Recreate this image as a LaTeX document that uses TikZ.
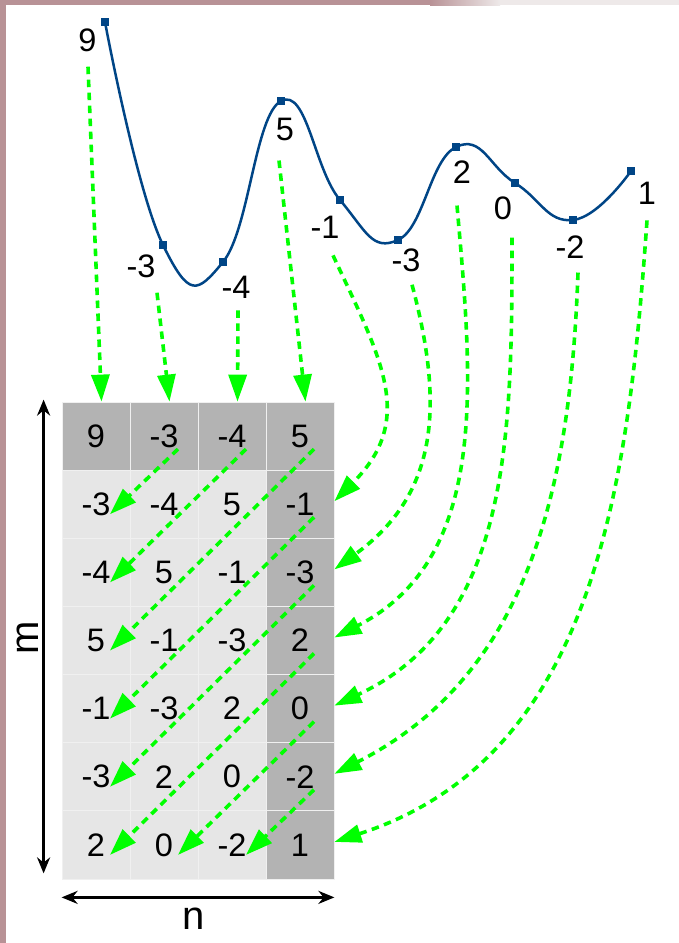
\documentclass[tikz,border=0pt]{standalone}
\usepackage{fontspec}
\setmainfont{Liberation Sans}
\usetikzlibrary{arrows.meta, calc}
\definecolor{curveblue}{RGB}{0,69,134}
\definecolor{flowgreen}{RGB}{0,255,0}
\definecolor{celldark}{RGB}{179,179,179}
\definecolor{celllight}{RGB}{230,230,230}
\definecolor{gridline}{RGB}{240,240,240}
\definecolor{stone}{RGB}{184,146,150}
\definecolor{stonelight}{RGB}{238,233,233}
\tikzset{
  cell/.style={rectangle, draw=gridline, line width=0.8pt,
    minimum width=68pt, minimum height=68.14pt, inner sep=0pt,
    font=\fontsize{32.5}{38}\selectfont},
  ptmark/.style={rectangle, fill=curveblue, minimum size=8pt, inner sep=0pt},
  vallabel/.style={inner sep=0pt, font=\fontsize{32.5}{38}\selectfont},
  axislabel/.style={inner sep=0pt, font=\fontsize{40}{46}\selectfont},
  flow/.style={-{Triangle[length=27pt, width=18pt]}, color=flowgreen,
    line width=3.6pt, dash pattern=on 7.5pt off 5.5pt},
  axis/.style={{Stealth[length=16pt, width=13pt]}-{Stealth[length=16pt, width=13pt]},
    line width=3pt, color=black}
}

\begin{document}
\begin{tikzpicture}[x=1pt, y=-1pt]
  \useasboundingbox (0,0) rectangle (679,943);
  % paper and stone edge
  \fill[white] (0,0) rectangle (679,943);
  \fill[stonelight] (0,0) rectangle (679,5);
  \fill[stone] (0,0) rectangle (430,5);
  \shade[left color=stone, right color=stonelight] (430,0) rectangle (500,5);
  \fill[stone] (0,0) rectangle (6,943);

  % signal curve
  \foreach \x/\y [count=\i] in {105/22, 163/245, 223/262, 281/101, 340/200,
      398/240, 456/147, 515/183, 573/220, 631/171}
    \coordinate (q\i) at (\x,\y);
  \draw[curveblue, line width=2.5pt] plot[smooth, tension=0.8]
    coordinates {(q1) (q2) (q3) (q4) (q5) (q6) (q7) (q8) (q9) (q10)};
  \foreach \i in {1,...,10}
    \node[ptmark] (p\i) at (q\i) {};

  % sample values
  \foreach \x/\y/\v [count=\i] in {87.5/40/9, 141/266/-3, 236/287/-4, 285/129/5,
      325/227/-1, 406/260/-3, 462/172/2, 503/208/0, 570/247/-2, 647/193/1}
    \node[vallabel] (l\i) at (\x,\y) {\v};

  % m x n matrix
  \foreach \row [count=\r from 0] in {{9,-3,-4,5},{-3,-4,5,-1},{-4,5,-1,-3},
      {5,-1,-3,2},{-1,-3,2,0},{-3,2,0,-2},{2,0,-2,1}}
    \foreach \v [count=\c from 0] in \row {
      \pgfmathtruncatemacro\dk{(\r==0)||(\c==3)}
      \ifnum\dk=1 \def\cf{celldark}\else\def\cf{celllight}\fi
      \node[cell, fill=\cf] (c-\r-\c) at (96+68*\c, 402+68.14*\r+34.07) {\v};
    }

  % first row fed from the first four samples
  \foreach \i/\dx/\dy/\cl in {1/0.5/15/c-0-0, 2/16/15/c-0-1, 3/2/12/c-0-2, 4/-6/20/c-0-3}
    \draw[flow] ([shift={(\dx,\dy)}]l\i.south) -- ([xshift=5.5pt]\cl.north);

  % last column fed from the remaining samples
  \foreach \i/\dx/\dy/\r/\o/\n/\lo in {5/8/17/1/-65/45/1.2, 6/6/13/2/-75/36/1.1,
      7/-5/22/3/-85/27/1, 8/9/18/4/-90/25/1, 9/8/14/5/-92/27/1, 10/0/16/6/-94/18/1}
    \draw[flow] ([shift={(\dx,\dy)}]l\i.south) to[out=\o, in=\n, looseness=\lo]
      ([yshift=3pt]c-\r-3.east);

  % shifted copies along the anti-diagonals
  \foreach \a/\b in {0-1/1-0, 0-2/2-0, 0-3/3-0, 1-3/4-0, 2-3/5-0, 3-3/6-0,
      4-3/6-1, 5-3/6-2}
    \draw[flow] ([shift={(14,13)}]c-\a.center) -- ([shift={(14,10)}]c-\b.center);

  % dimensions
  \draw[axis] ([shift={(-18,-2)}]c-0-0.north west) -- ([shift={(-18,-6)}]c-6-0.south west);
  \draw[axis] ([yshift=-18pt]c-6-0.south west) -- ([yshift=-18pt]c-6-3.south east);
  \node[axislabel, rotate=90] (mlabel) at (28,638) {m};
  \node[axislabel] (nlabel) at (194,919) {n};
\end{tikzpicture}
\end{document}
